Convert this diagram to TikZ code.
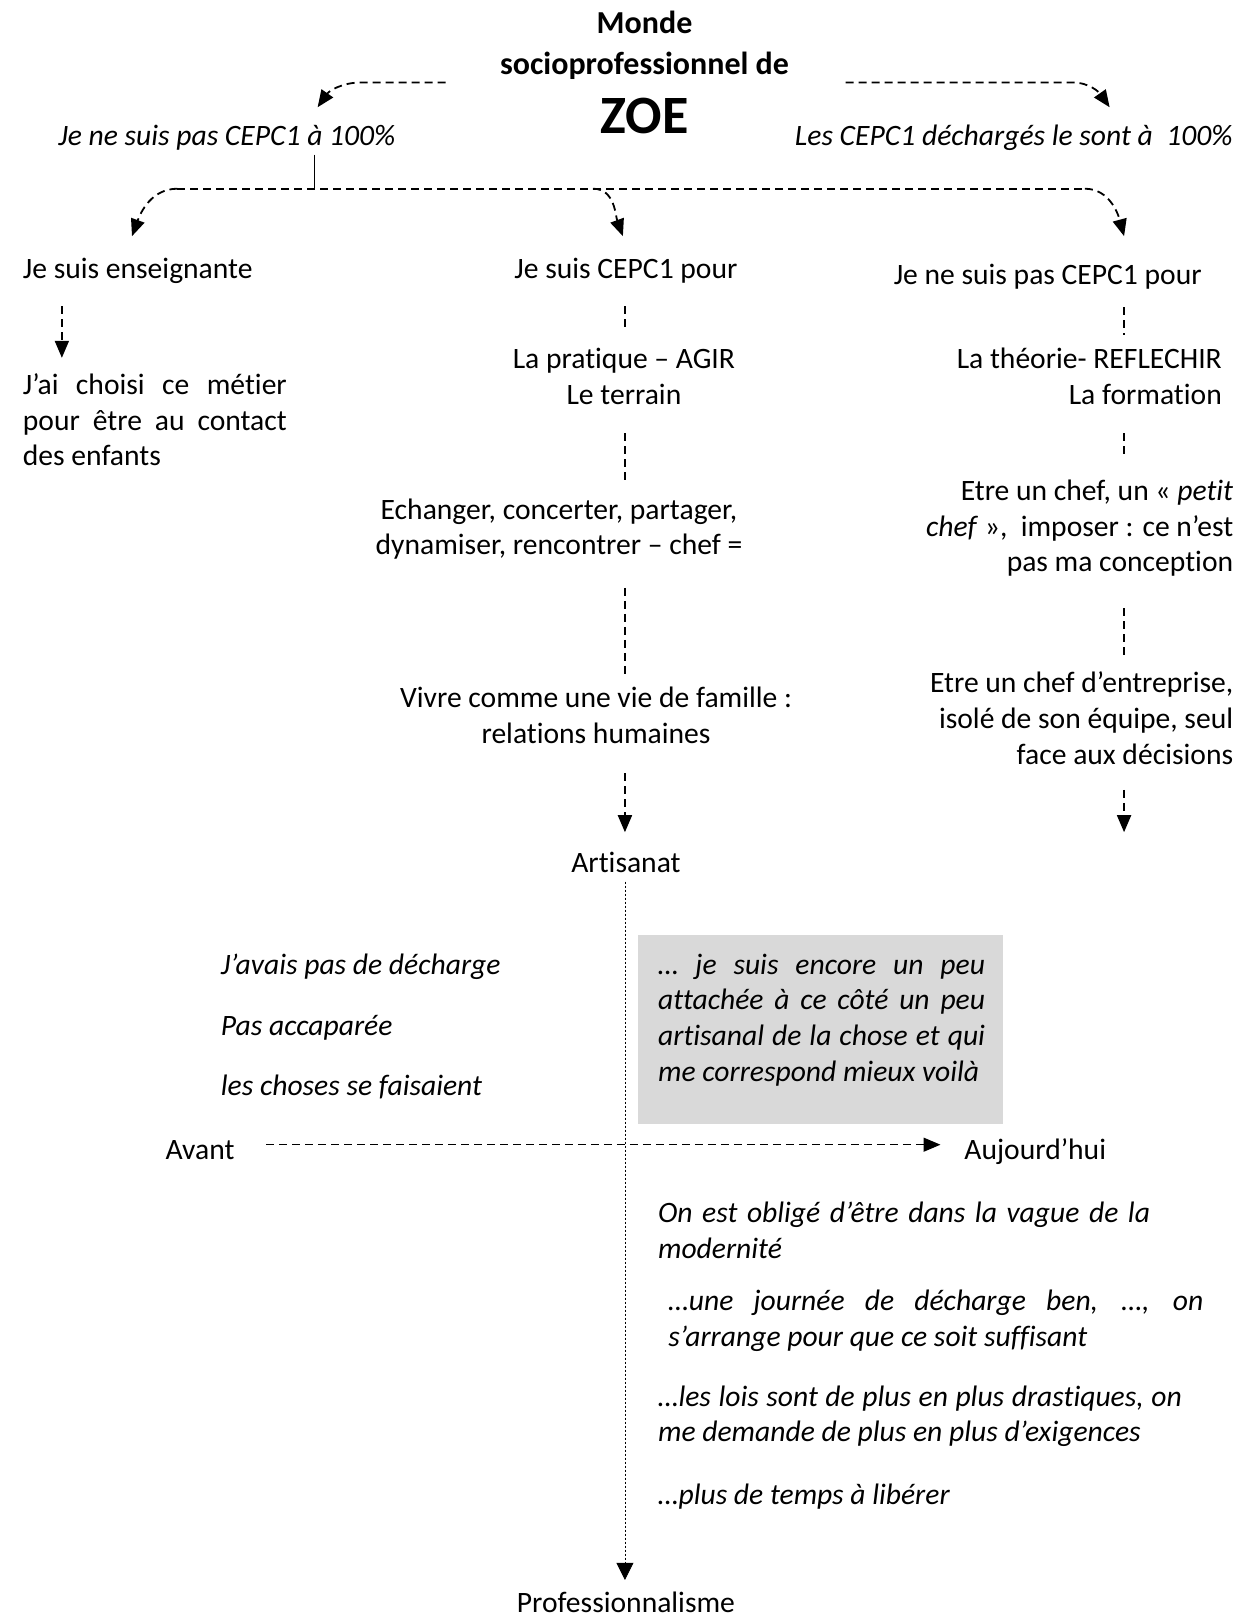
\documentclass[tikz,border=0pt]{standalone}
\usepackage{fontspec}
\setmainfont{Carlito}[Ligatures=NoCommon]
\usetikzlibrary{arrows.meta}
\definecolor{boxgrey}{RGB}{217,217,217}
\begin{document}
\hyphenpenalty=10000
\exhyphenpenalty=10000
\begin{tikzpicture}[x=1.0315pt,y=1.0315pt,
  txt/.style={inner sep=0pt,font=\fontsize{29.6}{35.6}\selectfont,execute at begin node=\strut},
  it/.style={inner sep=0pt,font=\fontsize{29.6}{35.6}\selectfont\itshape,execute at begin node=\strut},
  ttl/.style={inner sep=0pt,font=\fontsize{32}{40.2}\selectfont\bfseries,execute at begin node=\strut},
  dsh/.style={line width=1.8pt,dash pattern=on 8pt off 5pt},
  arr/.style={dsh,-{Triangle[length=17pt,width=14pt]}},
  dotl/.style={line width=0.7pt,dash pattern=on 2pt off 2pt,-{Triangle[length=17pt,width=17pt]}},
]
\useasboundingbox (0,0) rectangle (1208,-1568);

% grey box
\fill[boxgrey] (619,-907) rectangle (973,-1090);

% title
\node[ttl,anchor=north,align=center] (title) at (625,-11) {Monde\\socioprofessionnel de};
\node[inner sep=0pt,font=\fontsize{54}{64}\selectfont\bfseries] (zoe) at (625,-112) {ZOE};

\node[it,anchor=north] (pas100) at (220,-116.4) {Je ne suis pas CEPC1 à 100\%};
\node[it,anchor=north] (les100) at (983,-116.4) {Les CEPC1 déchargés le sont à\ \ 100\%};

% columns
\node[txt,anchor=north west] (ens) at (22,-245.4) {Je suis enseignante};
\node[txt,anchor=north west,text width=264pt,align=justify] (choisi) at (22,-358.4)
  {J’ai choisi ce métier pour être au contact des enfants};

\node[txt,anchor=north] (cepc) at (607,-245.4) {Je suis CEPC1 pour};
\node[txt,anchor=north,align=center] (pratique) at (605,-337.4) {La pratique – AGIR\\Le terrain};
\node[txt,anchor=north,align=center] (echanger) at (542,-483.4) {Echanger, concerter, partager,\\dynamiser, rencontrer – chef =};
\node[txt,anchor=north,align=center] (vivre) at (578,-666.4) {Vivre comme une vie de famille :\\relations humaines};
\node[txt,anchor=north] (artisanat) at (607,-821.4) {Artisanat};
\node[txt,anchor=north] (prof) at (607,-1539.4) {Professionnalisme};

\node[txt,anchor=north] (nepas) at (1016,-251.4) {Je ne suis pas CEPC1 pour};
\node[txt,anchor=north east,align=right] (theorie) at (1185,-337.4) {La théorie- REFLECHIR\\La formation};
\node[txt,anchor=north east,align=right] (petit) at (1196,-465.4) {Etre un chef, un « \textit{petit}\\\textit{chef} »,\ \ imposer : ce n’est\\pas ma conception};
\node[txt,anchor=north east,align=right] (entreprise) at (1196,-651.4) {Etre un chef d’entreprise,\\isolé de son équipe, seul\\face aux décisions};

% lower part
\node[it,anchor=north west] (avais) at (214,-920.4) {J’avais pas de décharge};
\node[it,anchor=north west] (accap) at (214,-979.4) {Pas accaparée};
\node[it,anchor=north west] (choses) at (214,-1038.4) {les choses se faisaient};
\node[it,anchor=north west,text width=327pt,align=justify] (boxt) at (638,-920.4)
  {… je suis encore un peu attachée à ce côté un peu artisanal de la chose et qui me correspond mieux voilà};

\node[txt,anchor=north] (avant) at (194,-1100.4) {Avant};
\node[txt,anchor=north west] (aujourd) at (935,-1100.4) {Aujourd’hui};

\node[it,anchor=north west,text width=492pt,align=justify] (oblige) at (638,-1161.4)
  {On est obligé d’être dans la vague de la modernité};
\node[it,anchor=north west,text width=535pt,align=justify] (journee) at (648,-1246.4)
  {…une journée de décharge ben, …, on s’arrange pour que ce soit suffisant};
\node[it,anchor=north west,text width=524pt,align=justify] (lois) at (638,-1339.4)
  {…les lois sont de plus en plus drastiques, on me demande de plus en plus d’exigences};
\node[it,anchor=north west] (temps) at (638,-1434.4) {…plus de temps à libérer};

% connector coordinates
\coordinate (tl1) at (432,-80);
\coordinate (tl2) at (350,-80);
\coordinate (tl3) at (308,-104);
\coordinate (tr1) at (820,-80);
\coordinate (tr2) at (1040,-80);
\coordinate (tr3) at (1076,-104);
\coordinate (v1) at (305,-150);
\coordinate (v2) at (305,-183);
\coordinate (hL) at (172,-183);
\coordinate (hM) at (575,-183);
\coordinate (hR) at (1052,-183);
\coordinate (eL) at (128,-229);
\coordinate (eM) at (604,-229);
\coordinate (eR) at (1090,-229);

% top connectors
\draw[arr] (tl1) -- (tl2) to[out=180,in=55] (tl3);
\draw[arr] (tr1) -- (tr2) to[out=0,in=125] (tr3);
\draw[line width=1.1pt] (v1) -- (v2);
\draw[dsh] (hL) -- (hR);
\draw[arr] (hL) to[out=180,in=70] (eL);
\draw[arr] (hM) to[out=0,in=110] (eM);
\draw[arr] (hR) to[out=0,in=105] (eR);

% left column
\draw[arr] (60,-297) coordinate (l1) -- (60,-347) coordinate (l2);
% middle column
\draw[dsh] (606,-297) coordinate (m1) -- (606,-318) coordinate (m2);
\draw[dsh] (606,-420) coordinate (m3) -- (606,-470) coordinate (m4);
\draw[dsh] (606,-570) coordinate (m5) -- (606,-655) coordinate (m6);
\draw[arr] (606,-750) coordinate (m7) -- (606,-807) coordinate (m8);
% right column
\draw[dsh] (1090,-298) coordinate (r1) -- (1090,-325) coordinate (r2);
\draw[dsh] (1090,-420) coordinate (r3) -- (1090,-445) coordinate (r4);
\draw[dsh] (1090,-590) coordinate (r5) -- (1090,-640) coordinate (r6);
\draw[arr] (1090,-766) coordinate (r7) -- (1090,-807) coordinate (r8);

% axes
\draw[dotl] (606,-855) coordinate (ax1) -- (606,-1532) coordinate (ax2);
\draw[dsh,line width=1.4pt,-{Triangle[length=17pt,width=14pt]}] (258,-1110) coordinate (ax3) -- (912,-1110) coordinate (ax4);
\end{tikzpicture}
\end{document}
